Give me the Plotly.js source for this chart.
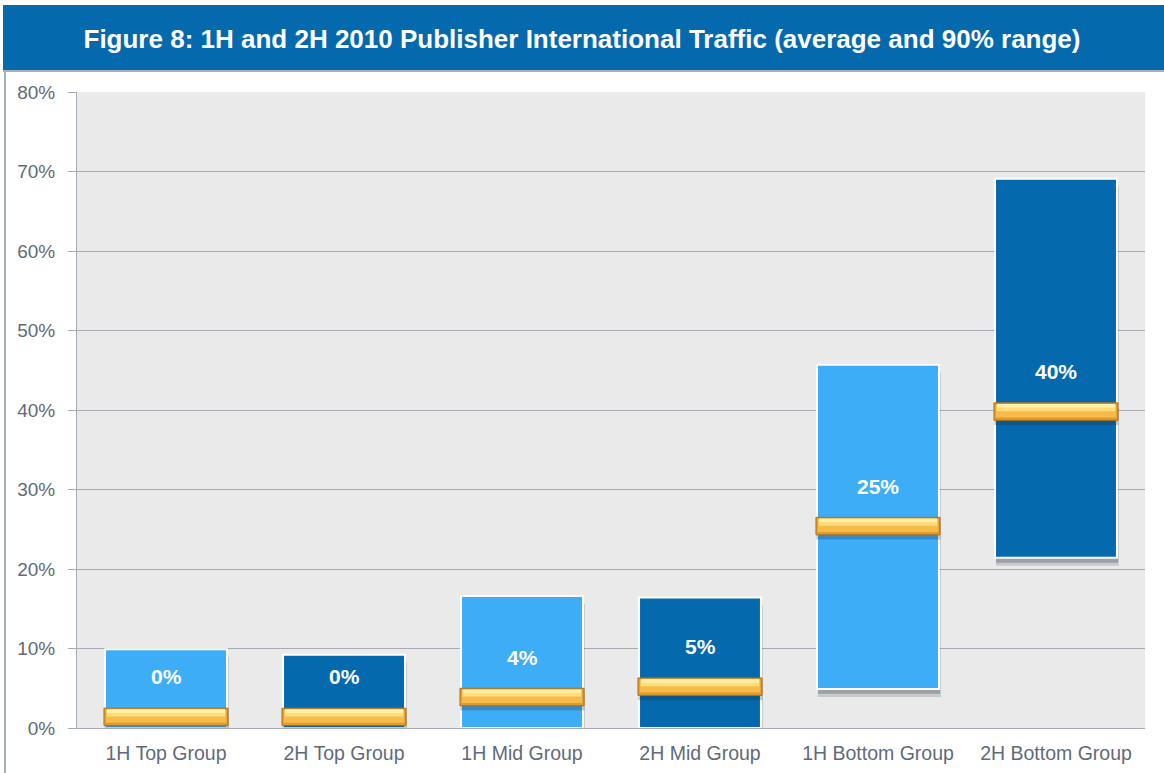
<!DOCTYPE html>
<html>
<head>
<meta charset="utf-8">
<script src="https://cdn.plot.ly/plotly-3.0.1.min.js"></script>
<style>html,body{margin:0;padding:0;background:#fff;}#chart{width:1164px;height:773px;}</style>
</head>
<body>
<div id="chart"></div>
<script>
// Data
const categories = ["1H Top Group", "2H Top Group", "1H Mid Group", "2H Mid Group", "1H Bottom Group", "2H Bottom Group"];
const rangeLow = [0, 0, 0, 0, 4.9, 21.4];
const rangeHigh = [9.9, 9.2, 16.6, 16.4, 45.7, 69.1];
const averages = [1.4, 1.4, 3.9, 5.2, 25.4, 39.8];
const averageLabels = ["0%", "0%", "4%", "5%", "25%", "40%"];

const LIGHT = "#3EADF8", DARK = "#0569AE";
const barColors = categories.map((c, i) => i % 2 === 0 ? LIGHT : DARK);
const spans = rangeHigh.map((h, i) => h - rangeLow[i]);
const W = 0.685;
const MARK_H = 2.2;
const MW = W + 0.012;

function barTrace(base, height, width, shift, color, line) {
  return {
    type: "bar", x: categories, base: base, y: height,
    width: width, offset: -width / 2 + shift,
    marker: { color: color, line: line || { width: 0 } },
    hoverinfo: "skip", showlegend: false
  };
}

const traces = [
  // soft shadows of range bars
  barTrace(rangeLow.map(v => v - 1.0), spans, W + 0.006, 0.008, "rgba(45,55,65,0.18)"),
  barTrace(rangeLow.map(v => v - 0.6), spans, W, 0.006, "rgba(45,55,65,0.28)"),
  // range bars
  barTrace(rangeLow, spans, W, 0, barColors, { color: "#FFFFFF", width: 2 }),
  // marker shadow
  barTrace(averages.map(v => v - MARK_H / 2 - 0.6), averages.map(() => MARK_H), MW, 0.002, "rgba(30,40,50,0.25)"),
  // gold marker layers
  barTrace(averages.map(v => v - MARK_H / 2), averages.map(() => MARK_H), MW, 0, "#E39A2A", { color: "#A8731E", width: 1 }),
  barTrace(averages.map(v => v - MARK_H / 2 + 0.35), averages.map(() => MARK_H - 0.55), MW - 0.02, 0, "#F6BB48"),
  barTrace(averages.map(v => v + 0.05), averages.map(() => MARK_H / 2 - 0.25), MW - 0.03, 0, "#FFDD78"),
  barTrace(averages.map(v => v + 0.5), averages.map(() => 0.45), MW - 0.035, 0, "#FFF0A8")
];

const annotations = categories.map((c, i) => ({
  x: c, y: averages[i], xref: "x", yref: "y",
  text: averageLabels[i], showarrow: false, yshift: 40,
  font: { family: "Liberation Sans, Arial, sans-serif", size: 21, color: "#FFFFFF", weight: "bold" }
}));

const plotL = 77, plotR = 1145, plotT = 92, plotB = 728;
const pw = plotR - plotL, ph = plotB - plotT;
const px = x => (x - plotL) / pw;
const py = y => (plotB - y) / ph;

const layout = {
  width: 1164, height: 773,
  margin: { l: plotL, r: 1164 - plotR, t: plotT, b: 773 - plotB, pad: 0 },
  paper_bgcolor: "#FFFFFF", plot_bgcolor: "#EAEAEA",
  barmode: "overlay",
  font: { family: "Liberation Sans, Arial, sans-serif" },
  title: {
    text: "<b>Figure 8: 1H and 2H 2010 Publisher International Traffic (average and 90% range)</b>",
    x: 0.5, xref: "container", xanchor: "center",
    y: 1 - 39 / 773, yref: "container", yanchor: "middle",
    font: { family: "Liberation Sans, Arial, sans-serif", size: 26, color: "#FFFFFF" }
  },
  xaxis: {
    type: "category", showgrid: false, showline: true, linecolor: "#A4ABB3", linewidth: 1,
    ticks: "", ticklabelstandoff: 8, tickfont: { size: 19.5, color: "#5F6B78" }, fixedrange: true
  },
  yaxis: {
    range: [0, 80], dtick: 10, ticksuffix: "%", showgrid: true, gridcolor: "#A4ABB3", gridwidth: 1,
    showline: true, linecolor: "#A4ABB3", linewidth: 1, ticks: "outside", ticklen: 8, tickcolor: "#A4ABB3",
    ticklabelstandoff: 9,
    zeroline: false, tickfont: { size: 19, color: "#5F6B78" }, fixedrange: true
  },
  shapes: [
    { type: "rect", xref: "paper", yref: "paper", x0: px(3), x1: px(1164), y0: py(70), y1: py(5),
      fillcolor: "#0569AE", line: { width: 0 }, layer: "below" },
    { type: "line", xref: "paper", yref: "paper", x0: px(3), x1: px(1164), y0: py(71), y1: py(71),
      line: { color: "#A8B0B8", width: 2 } },
    { type: "line", xref: "paper", yref: "paper", x0: px(5), x1: px(5), y0: py(71), y1: py(773),
      line: { color: "#A8B0B8", width: 2 } }
  ],
  annotations: annotations
};

Plotly.newPlot("chart", traces, layout, { displayModeBar: false, staticPlot: true });
</script>
</body>
</html>
